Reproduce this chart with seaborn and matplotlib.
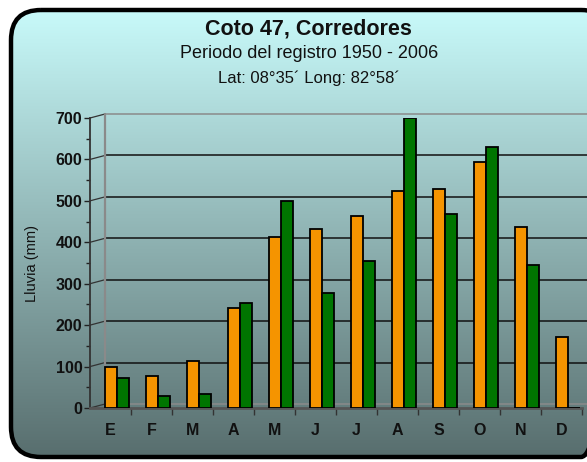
import matplotlib

matplotlib.use("Agg")
import matplotlib.pyplot as plt
import matplotlib.transforms as mtransforms
import numpy as np
import pandas as pd
import seaborn as sns
from matplotlib.patches import FancyBboxPatch

# Lluvia mensual (mm)
meses = ["Ene", "Feb", "Mar", "Abr", "May", "Jun",
         "Jul", "Ago", "Sep", "Oct", "Nov", "Dic"]
etiquetas = ["E", "F", "M", "A", "M", "J", "J", "A", "S", "O", "N", "D"]
serie_1 = [99, 78, 113, 241, 413, 432, 464, 524, 528, 594, 437, 171]
serie_2 = [72, 30, 35, 253, 500, 278, 355, 700, 468, 630, 345, 0]
series = ["Serie 1", "Serie 2"]

titulo = "Coto 47, Corredores"
subtitulo = "Periodo del registro 1950 - 2006"
coordenadas = "Lat: 08°35´ Long: 82°58´"

df = pd.DataFrame({
    "mes": meses * 2,
    "lluvia": serie_1 + serie_2,
    "serie": [series[0]] * 12 + [series[1]] * 12,
})

sns.set_theme(style="white")
plt.rcParams["font.family"] = ["Liberation Sans", "DejaVu Sans"]

W, H, DPI = 587, 462, 100
fig = plt.figure(figsize=(W / DPI, H / DPI), dpi=DPI, facecolor="white")

# fondo con degradado y marco redondeado
bg = fig.add_axes([0, 0, 1, 1], zorder=-10)
bg.set_xlim(0, W)
bg.set_ylim(H, 0)
bg.axis("off")
grad = np.linspace(0, 1, 256)[:, None]
top = np.array([200, 250, 250]) / 255
bottom = np.array([88, 110, 110]) / 255
img = top + (bottom - top) * grad[..., None]
im = bg.imshow(img, extent=(0, W, 457, 10), aspect="auto", interpolation="bilinear")
marco = FancyBboxPatch((11, 10), 600, 447, boxstyle="round,pad=0,rounding_size=30",
                       facecolor="none", edgecolor="black", linewidth=3.2)
bg.add_patch(marco)
im.set_clip_path(marco)

# area del grafico
ax = fig.add_axes([90 / W, 1 - 408 / H, 492 / W, 290 / H], zorder=1)
ax.patch.set_alpha(0)

sns.barplot(data=df, x="mes", y="lluvia", hue="serie", order=meses,
            palette=["#f59400", "#007500"], saturation=1, width=0.6,
            edgecolor="black", linewidth=1.3, errorbar=None, legend=False,
            ax=ax, zorder=3)

ax.set_xlim(-0.66, 11.34)
ax.set_ylim(0, 700)

# pared del fondo (efecto 3D)
dx, dy = 15 / DPI, 4 / DPI
shift = mtransforms.ScaledTranslation(dx, dy, fig.dpi_scale_trans)
tr = ax.get_yaxis_transform() + shift
for v in range(0, 701, 100):
    color = "#8a8a8a" if v in (0, 700) else "#111111"
    ax.plot([0, 1], [v, v], transform=tr, color=color, lw=1.1,
            clip_on=False, zorder=1)
    ax.annotate("", xy=(0, v), xycoords=ax.get_yaxis_transform(),
                xytext=(dx * 72, dy * 72), textcoords="offset points",
                arrowprops=dict(arrowstyle="-", color="#333333", lw=0.9,
                                shrinkA=0, shrinkB=0), zorder=1)
ax.plot([0, 0], [0, 700], transform=tr, color="#8a8a8a", lw=1.6,
        clip_on=False, zorder=1)

ax.set_xticks(np.arange(12) - 0.16, etiquetas)
ax.set_xticks(np.arange(12) + 0.34, minor=True)
ax.set_yticks(range(0, 701, 100))
ax.set_yticks(range(50, 700, 100), minor=True)
ax.tick_params(axis="x", which="major", length=0, pad=11, labelsize=11.5)
ax.tick_params(axis="x", which="minor", length=5, width=1, color="#333333",
               direction="out", bottom=True)
ax.tick_params(axis="y", which="major", length=4, width=1, color="#222222",
               direction="out", left=True, pad=1.5, labelsize=11.5)
ax.tick_params(axis="y", which="minor", length=3, width=1, color="#222222",
               direction="out", left=True)
for lab in ax.get_xticklabels() + ax.get_yticklabels():
    lab.set_fontweight("bold")
    lab.set_color("#111111")

for s in ("top", "right"):
    ax.spines[s].set_visible(False)
ax.spines["left"].set_color("#333333")
ax.spines["left"].set_linewidth(1.3)
ax.spines["bottom"].set_color("#555555")
ax.spines["bottom"].set_linewidth(2)

ax.set_xlabel("")
ax.set_ylabel("Lluvia (mm)", fontsize=10.5, labelpad=12, color="#111111")

fig.text(308 / W, 1 - 35 / H, titulo, ha="center", va="baseline",
         fontsize=15.5, fontweight="bold", color="#111111")
fig.text(309 / W, 1 - 58 / H, subtitulo, ha="center", va="baseline",
         fontsize=13, color="#111111")
fig.text(309 / W, 1 - 83 / H, coordenadas, ha="center", va="baseline",
         fontsize=12, color="#111111")

fig.savefig("out.png", dpi=DPI, facecolor="white")
